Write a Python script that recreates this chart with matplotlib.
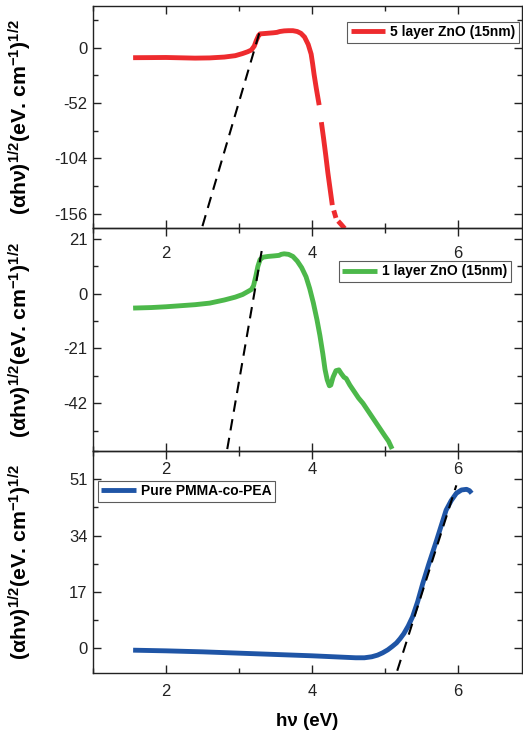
import numpy as np
import matplotlib
matplotlib.use("Agg")
import matplotlib.pyplot as plt
from matplotlib.ticker import MultipleLocator

plt.rcParams["font.family"] = ["Liberation Sans", "DejaVu Sans"]
plt.rcParams["mathtext.fontset"] = "custom"
plt.rcParams["mathtext.rm"] = "Liberation Sans"
plt.rcParams["mathtext.bf"] = "Liberation Sans:bold"
plt.rcParams["mathtext.it"] = "Liberation Sans:italic"
plt.rcParams["axes.unicode_minus"] = False

# ---- 5 layer ZnO (15nm) ----
zno5_x = [1.55, 1.8, 2.0, 2.2, 2.4, 2.6, 2.8, 2.95, 3.05, 3.12, 3.17, 3.21, 3.24,
          3.27, 3.29, 3.33, 3.40, 3.47, 3.52, 3.56, 3.62, 3.68, 3.74, 3.80, 3.85,
          3.90, 3.95, 3.99, 4.01, 4.03, 4.06, 4.10, np.nan,
          4.13, 4.16, 4.19, 4.22, 4.25, 4.28, np.nan, 4.30, 4.33, np.nan,
          4.36, 4.40, 4.45]
zno5_y = [-9.4, -9.3, -9.2, -9.5, -9.8, -9.6, -8.8, -7.5, -5.5, -3.8, -2.2, 1.5, 7.0,
          11.5, 13.0, 13.2, 13.6, 14.0, 14.4, 15.2, 15.8, 16.0, 16.0, 15.2, 13.5,
          10.0, 3.0, -6.0, -15.0, -25.0, -38.0, -54.0, np.nan,
          -70.0, -85.0, -101.0, -118.0, -133.0, -148.0, np.nan, -153.0, -160.0, np.nan,
          -163.0, -166.0, -170.0]

# ---- 1 layer ZnO (15nm) ----
zno1_x = [1.55, 1.8, 2.0, 2.2, 2.4, 2.6, 2.8, 2.95, 3.05, 3.12, 3.17, 3.20, 3.23,
          3.26, 3.29, 3.33, 3.40, 3.48, 3.55, 3.58, 3.62, 3.68, 3.74, 3.80, 3.86,
          3.92, 3.97, 4.02, 4.07, 4.11, 4.15, 4.18, 4.21, 4.24, 4.26, 4.29, 4.33,
          4.37, 4.40, 4.44, 4.47, 4.52, 4.58, 4.64, 4.70, 4.76, 4.82, 4.88, 4.94,
          5.00, 5.05, 5.10]
zno1_y = [-5.5, -5.3, -5.0, -4.6, -4.2, -3.6, -2.4, -1.3, -0.3, 0.8, 1.6, 3.0, 6.5,
          10.5, 13.1, 14.0, 14.3, 14.5, 14.7, 15.1, 15.3, 15.1, 14.3, 12.5, 10.0,
          6.5, 2.0, -3.5, -10.0, -16.0, -23.0, -29.0, -33.0, -35.3, -35.0, -32.0, -29.5,
          -29.2, -30.5, -32.0, -32.5, -35.0, -37.5, -40.0, -42.0, -44.5, -47.0, -49.5, -52.0,
          -54.5, -56.5, -59.5]

# ---- Pure PMMA-co-PEA ----
pmma_x = [1.55, 2.0, 2.5, 3.0, 3.5, 4.0, 4.4, 4.60, 4.72, 4.82, 4.90, 4.97, 5.04,
          5.10, 5.16, 5.21, 5.26, 5.32, 5.38, 5.45, 5.52, 5.60, 5.71, 5.78, 5.84,
          5.91, 5.98, 6.05, 6.12, 6.16, 6.19]
pmma_y = [-0.7, -0.9, -1.2, -1.6, -2.0, -2.4, -2.8, -3.0, -3.0, -2.7, -2.2, -1.5, -0.6,
          0.4, 1.5, 2.8, 4.3, 6.6, 9.4, 14.0, 19.5, 25.2, 32.6, 37.5, 41.7,
          44.6, 46.8, 47.8, 48.0, 47.6, 46.8]

# Tauc extrapolation lines: band gap (x-intercept), slope, x-extent
fit_eg = [3.22, 3.21, 5.27]
fit_slope = [233.0, 161.0, 69.3]
fit_xrange = [(2.50, 3.30), (2.84, 3.32), (5.17, 5.98)]

labels = ["5 layer ZnO (15nm)", "1 layer ZnO (15nm)", "Pure PMMA-co-PEA"]
colors = ["#ee2b2e", "#4cb84a", "#1f55a6"]
ylims = [(-169.5, 39.2), (-60.3, 25.2), (-7.7, 59.6)]
ystep = [52, 21, 17]

series = [(zno5_x, zno5_y), (zno1_x, zno1_y), (pmma_x, pmma_y)]

fig = plt.figure(figsize=(5.23, 7.41), dpi=100)
W, H = 523.0, 741.0
left, right = 93 / W, 522 / W
edges = [6, 228, 451, 673.3]
axes = []
for i in range(3):
    top = 1 - edges[i] / H
    bot = 1 - edges[i + 1] / H
    ax = fig.add_axes([left, bot, right - left, top - bot])
    ax.patch.set_visible(False)
    axes.append(ax)

ylabel = r"(αhν)$^{\mathbf{1/2}}$(eV. cm$^{\mathbf{-1}}$)$^{\mathbf{1/2}}$"
label_pads = [13, 8, 8]

for i, ax in enumerate(axes):
    x, y = series[i]
    ax.plot(x, y, color=colors[i], lw=3.5, solid_capstyle="butt", label=labels[i], zorder=3)
    x0, x1 = fit_xrange[i]
    fx = np.array([x0, x1])
    fy = fit_slope[i] * (fx - fit_eg[i])
    ax.plot(fx, fy, color="black", lw=1.5, dashes=(5.5, 3.6), zorder=4)

    ax.set_xlim(1.0, 6.88)
    ax.set_ylim(*ylims[i])
    ax.xaxis.set_major_locator(MultipleLocator(2))
    ax.xaxis.set_minor_locator(MultipleLocator(1))
    ax.yaxis.set_major_locator(MultipleLocator(ystep[i]))
    ax.yaxis.set_minor_locator(MultipleLocator(ystep[i] / 2))
    ax.tick_params(which="both", direction="in", top=True, right=True, width=1.0,
                   colors="#222222", labelcolor="#222222")
    ax.tick_params(which="major", length=6, labelsize=12)
    ax.tick_params(which="minor", length=3.5)
    ax.tick_params(axis="x", which="major", pad=label_pads[i])
    ax.tick_params(axis="y", which="major", pad=4)
    for s in ax.spines.values():
        s.set_linewidth(1.0)
        s.set_color("#222222")
    ax.set_ylabel(ylabel, fontsize=15.3, fontweight="bold")
    ax.yaxis.set_label_coords(-0.138, 0.5)

leg_kw = dict(prop={"weight": "bold", "size": 10}, frameon=True,
              fancybox=False, borderpad=0.25, handlelength=2.5, handletextpad=0.35,
              borderaxespad=0.0)
for ax, anchor, loc in zip(
        axes,
        [(519 / W, 1 - 21.7 / H), (510.7 / W, 1 - 261 / H), (97.7 / W, 1 - 480.7 / H)],
        ["upper right", "upper right", "upper left"]):
    leg = ax.legend(loc=loc, bbox_to_anchor=anchor, bbox_transform=fig.transFigure, **leg_kw)
    leg.get_frame().set_edgecolor("#333333")
    leg.get_frame().set_linewidth(0.8)

axes[2].set_xlabel("hν (eV)", fontsize=13.5, fontweight="bold", labelpad=10)

fig.savefig("out.png", dpi=100)
